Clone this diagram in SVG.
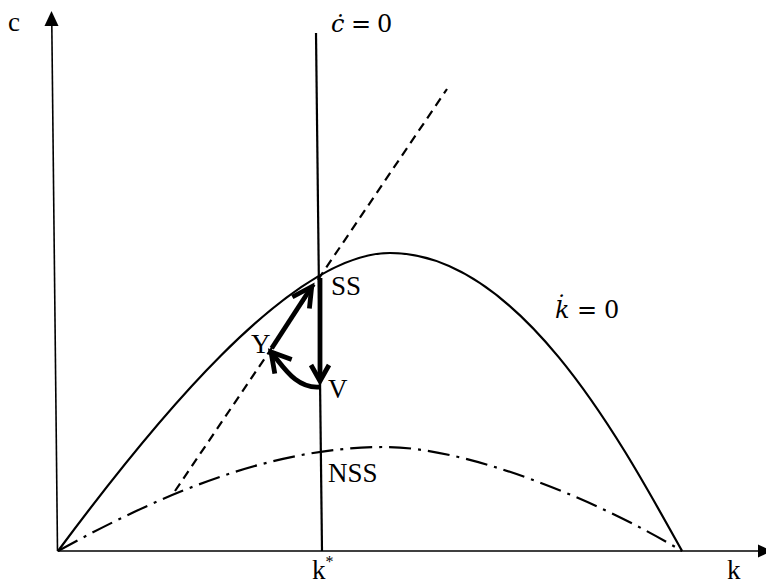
<svg xmlns="http://www.w3.org/2000/svg" width="766" height="584" viewBox="0 0 766 584">
<style>
.ax{stroke:#000;stroke-width:1.6;fill:none}
.cv{stroke:#000;stroke-width:2.2;fill:none}
.dash{stroke-dasharray:9 6}
.dd{stroke-dasharray:22 7 3 7}
.th{stroke:#000;stroke-width:4.8;fill:none;stroke-linejoin:miter;stroke-linecap:butt}
.lbl{font-family:"Liberation Serif","Times New Roman",serif;font-size:27px;fill:#000}
.m{font-family:"DejaVu Serif",serif;font-size:24px;fill:#000}
.it{font-style:italic}
</style>
<rect width="766" height="584" fill="#fff"/>
<g id="axes">
  <line class="ax" x1="57.5" y1="551" x2="51.8" y2="24"/>
  <polygon points="51.5,11 44.5,26 58.5,26" fill="#000"/>
  <line class="ax" x1="57.5" y1="551" x2="760" y2="551"/>
  <polygon points="758,544.5 772,551 758,557.5" fill="#000"/>
</g>
<g id="curves">
  <path id="kdot-curve" class="cv" d="M58,551 C150,427 290,253 390,253 C520,253 622,443 682,551"/>
  <path id="nss-curve" class="cv dd" d="M58,551 C168,490.5 275,447 385,447 C465,447 592,497 682,551"/>
  <line id="saddle-path" class="cv dash" x1="175" y1="491" x2="447" y2="89"/>
  <line id="cdot-line" class="cv" x1="316" y1="33" x2="322" y2="551"/>
</g>
<g id="connectors">
  <line class="th" x1="271.7" y1="348.3" x2="311.2" y2="287.5"/>
  <polyline class="th" points="292.3,297 311.7,286.7 309.4,308.6"/>
  <line class="th" x1="320" y1="278" x2="320" y2="379"/>
  <polyline class="th" points="311,365 320,381 329,365"/>
  <path class="th" d="M320,387 C296,389 283.9,367.3 271,352"/>
  <polyline class="th" points="291.7,359.5 271,352 274.8,373.7"/>
</g>
<g id="labels">
  <text class="lbl" x="8" y="31">c</text>
  <text class="lbl" x="727" y="579">k</text>
  <text class="lbl" x="312" y="579">k<tspan font-size="16" dy="-12">*</tspan></text>
  <text class="m" y="32"><tspan class="it" x="331">ċ</tspan><tspan x="351">=</tspan><tspan x="377">0</tspan></text>
  <text class="m" y="318"><tspan class="it" x="555">k̇</tspan><tspan x="577">=</tspan><tspan x="604">0</tspan></text>
  <text class="lbl" x="331" y="295">SS</text>
  <text class="lbl" x="251" y="353">Y</text>
  <text class="lbl" x="328" y="398">V</text>
  <text class="lbl" x="328" y="482">NSS</text>
</g>
</svg>
